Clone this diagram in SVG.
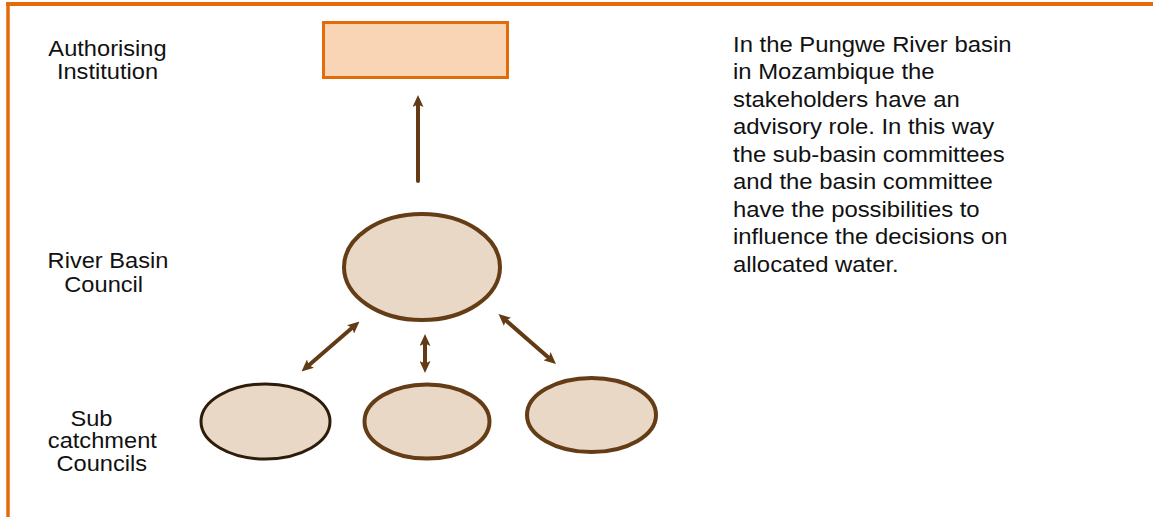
<svg xmlns="http://www.w3.org/2000/svg" width="1153" height="517" viewBox="0 0 1153 517">
<style>
  .lbl { font-family: "Liberation Sans", Arial, sans-serif; font-size: 22px; fill: #111; }
  .node { fill: #E8D8C5; stroke: #643C16; stroke-width: 4; }
  .conn { stroke: #623B15; stroke-width: 4; fill: none; }
  .frame { stroke: #E36C0A; fill: none; }
</style>
<defs>
  <marker id="ah" viewBox="0 0 12 11" markerWidth="12" markerHeight="11" refX="5" refY="5.5" markerUnits="userSpaceOnUse" orient="auto-start-reverse">
    <path d="M0,0 L12,5.5 L0,11 L2.5,5.5 z" fill="#623B15"/>
  </marker>
</defs>
<rect width="1153" height="517" fill="#ffffff"/>
<g id="frame">
  <line class="frame" x1="6" y1="4" x2="1153" y2="4" stroke-width="4"/>
  <line class="frame" x1="8" y1="2" x2="8" y2="517" stroke-width="3.5"/>
</g>
<g id="authorising-institution">
  <rect x="323.5" y="22.5" width="184" height="55" fill="#FAD5B5" stroke="#E36C0A" stroke-width="3"/>
</g>
<g id="river-basin-council">
  <ellipse class="node" cx="422" cy="267" rx="78" ry="53"/>
</g>
<g id="sub-council-1">
  <ellipse cx="265.5" cy="421.5" rx="64.5" ry="37.5" fill="#E8D8C5" stroke="#2E1C0A" stroke-width="3"/>
</g>
<g id="sub-council-2">
  <ellipse class="node" cx="427" cy="421.5" rx="62.5" ry="37"/>
</g>
<g id="sub-council-3">
  <ellipse class="node" cx="591.5" cy="415" rx="64.5" ry="37"/>
</g>
<g id="connectors">
  <line class="conn" x1="418" y1="181" x2="418" y2="102" stroke-linecap="round" marker-end="url(#ah)"/>
  <line class="conn" x1="306.8" y1="366.9" x2="354.2" y2="326.1" marker-start="url(#ah)" marker-end="url(#ah)"/>
  <line class="conn" x1="425" y1="366" x2="425" y2="341" marker-start="url(#ah)" marker-end="url(#ah)"/>
  <line class="conn" x1="503.8" y1="318.6" x2="550.7" y2="359.4" marker-start="url(#ah)" marker-end="url(#ah)"/>
</g>
<g id="labels">
  <g transform="translate(107.5 0) scale(1.075 1)">
    <text class="lbl" x="0" y="56.5" text-anchor="middle">Authorising</text>
    <text class="lbl" x="0" y="79.5" text-anchor="middle">Institution</text>
  </g>
  <g transform="translate(108 0) scale(1.075 1)">
    <text class="lbl" x="0" y="268" text-anchor="middle">River Basin</text>
    <text class="lbl" x="-4" y="292" text-anchor="middle">Council</text>
  </g>
  <g transform="translate(0 0) scale(1.075 1)">
    <text class="lbl" x="65.5" y="426">Sub</text>
    <text class="lbl" x="44.5" y="448.5">catchment</text>
    <text class="lbl" x="52.5" y="471.5">Councils</text>
  </g>
</g>
<g id="description" transform="translate(733 0) scale(1.085 1)">
  <text class="lbl" x="0" y="52">In the Pungwe River basin</text>
  <text class="lbl" x="0" y="79.5">in Mozambique the</text>
  <text class="lbl" x="0" y="107">stakeholders have an</text>
  <text class="lbl" x="0" y="134.3">advisory role. In this way</text>
  <text class="lbl" x="0" y="161.8">the sub-basin committees</text>
  <text class="lbl" x="0" y="189.2">and the basin committee</text>
  <text class="lbl" x="0" y="216.7">have the possibilities to</text>
  <text class="lbl" x="0" y="244.1">influence the decisions on</text>
  <text class="lbl" x="0" y="271.6">allocated water.</text>
</g>
</svg>
